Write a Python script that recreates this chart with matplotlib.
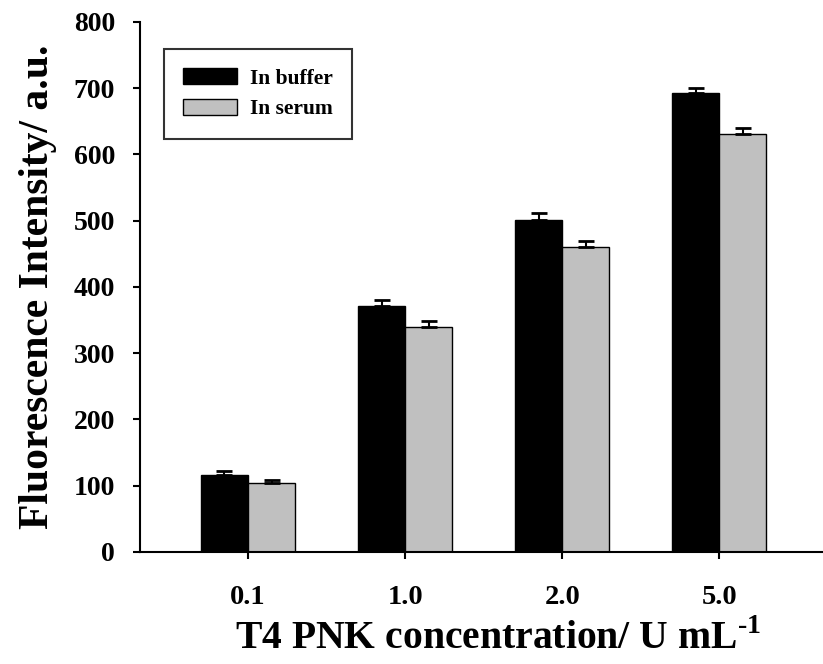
import numpy as np
import matplotlib
matplotlib.use('Agg')
import matplotlib.pyplot as plt

plt.rcParams['font.family'] = ['Liberation Serif', 'DejaVu Serif']
plt.rcParams['font.weight'] = 'bold'
plt.rcParams['mathtext.fontset'] = 'custom'
plt.rcParams['mathtext.bf'] = 'Liberation Serif:bold'
plt.rcParams['mathtext.rm'] = 'Liberation Serif:bold'

concentrations = ['0.1', '1.0', '2.0', '5.0']
buffer_vals = [116, 372, 501, 693]
buffer_err = [6, 8, 10, 7]
serum_vals = [104, 340, 461, 631]
serum_err = [5, 8, 9, 9]

x = np.arange(len(concentrations))
width = 0.30

fig = plt.figure(figsize=(8.23, 6.64), dpi=100)
ax = fig.add_axes([0.170, 0.1687, 0.830, 0.7983])

err_kw = dict(elinewidth=1.5, capsize=5.5, capthick=2, ecolor='black')
ax.bar(x - width/2, buffer_vals, width, color='black', edgecolor='black',
       linewidth=1, label='In buffer',
       yerr=[np.zeros(len(buffer_err)), buffer_err], error_kw=err_kw)
ax.bar(x + width/2, serum_vals, width, color='#c0c0c0', edgecolor='black',
       linewidth=1, label='In serum',
       yerr=[np.zeros(len(serum_err)), serum_err], error_kw=err_kw)

ax.set_xlim(-0.688, 3.66)
ax.set_ylim(0, 800)
ax.set_yticks(np.arange(0, 801, 100))
ax.set_xticks(x)
ax.set_xticklabels(concentrations)

for side in ['top', 'right']:
    ax.spines[side].set_visible(False)
for side in ['left', 'bottom']:
    ax.spines[side].set_linewidth(1.5)

ax.tick_params(axis='y', direction='out', length=5, width=1.5, labelsize=20, pad=13)
ax.tick_params(axis='x', direction='out', length=5, width=1.5, labelsize=20.5, pad=19)
for lbl in ax.get_xticklabels() + ax.get_yticklabels():
    lbl.set_fontweight('bold')

ax.set_ylabel('Fluorescence Intensity/ a.u.', fontsize=30, fontweight='bold', labelpad=12)
ax.set_xlabel('T4 PNK concentration/ U mL$^{\\text{-1}}$', fontsize=28.5,
              fontweight='bold', labelpad=7, x=0.524)

leg = ax.legend(loc='upper left', bbox_to_anchor=(0.035, 0.949), fontsize=15.5,
                frameon=True, fancybox=False, edgecolor='black',
                handlelength=2.5, handleheight=0.74, handletextpad=0.6,
                borderpad=0.9, labelspacing=0.48, borderaxespad=0)
leg.get_frame().set_linewidth(1.5)
for t in leg.get_texts():
    t.set_fontweight('bold')

fig.savefig('out.png', dpi=100)
